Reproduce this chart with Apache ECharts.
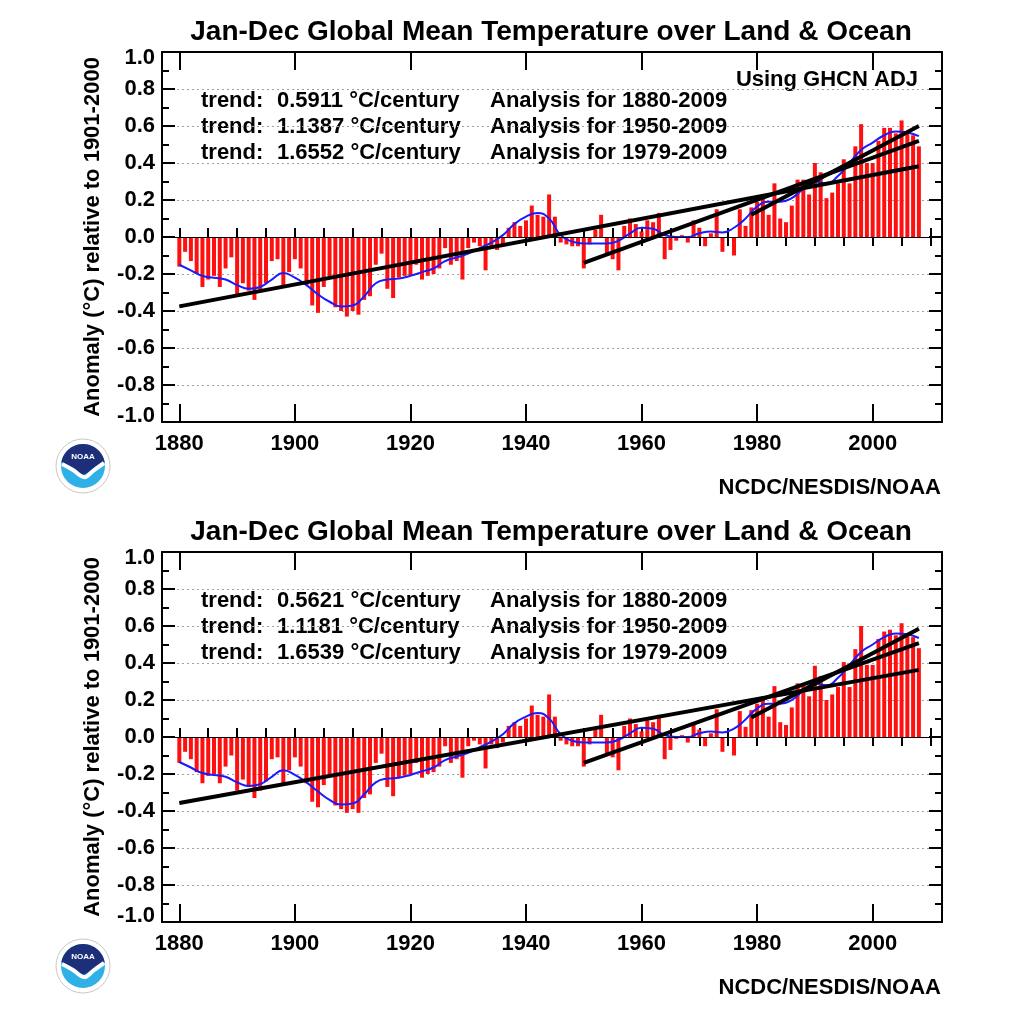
<!DOCTYPE html>
<html><head><meta charset="utf-8">
<script src="https://cdn.jsdelivr.net/npm/echarts@6/dist/echarts.min.js"></script>
<style>html,body{margin:0;padding:0;background:#fff}#c{width:1024px;height:1021px}</style>
</head><body><div id="c"></div>
<script>
// ---------- DATA ----------
const firstYear = 1880;
const titleText = "Jan-Dec Global Mean Temperature over Land & Ocean";
const yAxisTitle = "Anomaly (\u00B0C) relative to 1901-2000";
const majorYears = [1880, 1900, 1920, 1940, 1960, 1980, 2000];
const minorYears = [1880,1885,1890,1895,1900,1905,1910,1915,1920,1925,1930,1935,1940,1945,1950,1955,1960,1965,1970,1975,1980,1985,1990,1995,2000,2005,2010];

// Annual anomalies 1880..2008, top panel (GHCN ADJ)
const anomTop = [
 -0.16,-0.08,-0.13,-0.20,-0.27,-0.23,-0.21,-0.27,-0.17,-0.11,
 -0.31,-0.25,-0.29,-0.34,-0.30,-0.25,-0.13,-0.12,-0.27,-0.19,
 -0.12,-0.17,-0.26,-0.37,-0.41,-0.27,-0.22,-0.38,-0.40,-0.43,
 -0.40,-0.42,-0.34,-0.32,-0.15,-0.09,-0.28,-0.33,-0.22,-0.21,
 -0.21,-0.15,-0.23,-0.21,-0.20,-0.17,-0.06,-0.15,-0.13,-0.23,
 -0.06,-0.03,-0.05,-0.18,-0.05,-0.07,-0.04,0.05,0.08,0.06,
 0.09,0.17,0.12,0.11,0.23,0.11,-0.03,-0.04,-0.05,-0.05,
 -0.17,-0.04,0.04,0.12,-0.10,-0.12,-0.18,0.06,0.10,0.07,
 0.03,0.09,0.08,0.13,-0.12,-0.07,-0.02,0.01,-0.03,0.09,
 0.05,-0.05,0.02,0.15,-0.08,0.00,-0.10,0.15,0.06,0.16,
 0.19,0.23,0.12,0.29,0.10,0.08,0.17,0.31,0.31,0.23,
 0.40,0.35,0.21,0.24,0.29,0.42,0.29,0.49,0.61,0.40,
 0.40,0.52,0.59,0.59,0.56,0.63,0.56,0.55,0.49
];
// Annual anomalies 1880..2008, bottom panel
const anomBottom = [
 -0.14,-0.08,-0.12,-0.19,-0.25,-0.21,-0.20,-0.25,-0.16,-0.10,
 -0.29,-0.23,-0.27,-0.33,-0.29,-0.24,-0.12,-0.11,-0.25,-0.18,
 -0.11,-0.16,-0.25,-0.35,-0.38,-0.26,-0.21,-0.37,-0.39,-0.41,
 -0.39,-0.41,-0.33,-0.31,-0.14,-0.09,-0.27,-0.32,-0.22,-0.21,
 -0.20,-0.14,-0.22,-0.20,-0.19,-0.16,-0.05,-0.14,-0.12,-0.22,
 -0.05,-0.02,-0.04,-0.17,-0.04,-0.06,-0.03,0.06,0.08,0.06,
 0.10,0.17,0.12,0.11,0.23,0.11,-0.02,-0.04,-0.05,-0.05,
 -0.16,-0.04,0.04,0.12,-0.09,-0.11,-0.18,0.06,0.10,0.07,
 0.03,0.09,0.08,0.12,-0.12,-0.07,-0.01,0.01,-0.03,0.08,
 0.04,-0.05,0.02,0.15,-0.08,0.00,-0.10,0.14,0.055,0.145,
 0.18,0.22,0.11,0.275,0.08,0.065,0.16,0.29,0.29,0.22,
 0.385,0.33,0.20,0.23,0.27,0.405,0.27,0.475,0.60,0.39,
 0.39,0.53,0.57,0.58,0.55,0.615,0.55,0.54,0.48
];
// Smoothed curve
const smoothYears = [1880,1882,1884,1886,1888,1890,1892,1894,1896,1898,1900,1902,1904,1906,1908,1910,1912,1914,1916,1918,1920,1922,1924,1926,1928,1930,1932,1934,1936,1938,1940,1942,1944,1946,1948,1950,1952,1954,1956,1958,1960,1962,1964,1966,1968,1970,1972,1974,1976,1978,1980,1982,1984,1986,1988,1990,1992,1994,1996,1998,2000,2002,2004,2006,2008];
const smoothTop = [-0.15,-0.18,-0.21,-0.22,-0.23,-0.26,-0.28,-0.27,-0.23,-0.195,-0.22,-0.26,-0.31,-0.35,-0.375,-0.37,-0.32,-0.25,-0.23,-0.225,-0.21,-0.19,-0.17,-0.13,-0.11,-0.09,-0.06,-0.03,0.01,0.07,0.11,0.13,0.10,0.01,-0.025,-0.035,-0.035,-0.035,-0.02,0.02,0.05,0.045,0.01,0.0,0.0,0.02,0.03,0.025,0.05,0.10,0.165,0.19,0.19,0.21,0.26,0.30,0.29,0.33,0.40,0.47,0.51,0.55,0.57,0.565,0.545];
const smoothBottom = [-0.135,-0.165,-0.195,-0.205,-0.215,-0.245,-0.265,-0.255,-0.215,-0.18,-0.205,-0.245,-0.295,-0.34,-0.365,-0.36,-0.31,-0.245,-0.225,-0.22,-0.205,-0.185,-0.165,-0.125,-0.105,-0.085,-0.055,-0.025,0.015,0.075,0.11,0.13,0.10,0.015,-0.02,-0.03,-0.03,-0.03,-0.015,0.02,0.05,0.045,0.01,0.0,0.0,0.02,0.03,0.025,0.045,0.095,0.155,0.18,0.18,0.20,0.25,0.29,0.28,0.32,0.39,0.46,0.50,0.54,0.56,0.555,0.535];

// Linear trends
const trendStartYears = [1880, 1950, 1979];
const trendEndYear = 2008;
const trendStartTop = [-0.375, -0.14, 0.12];
const trendEndTop = [0.382, 0.52, 0.60];
const trendStartBottom = [-0.357, -0.14, 0.105];
const trendEndBottom = [0.363, 0.508, 0.585];
const trendRatesTop = ["0.5911", "1.1387", "1.6552"];
const trendRatesBottom = ["0.5621", "1.1181", "1.6539"];
const periods = ["1880-2009", "1950-2009", "1979-2009"];

// ---------- CHART ----------
const FF = '"Liberation Sans", Arial, Helvetica, sans-serif';
const chart = echarts.init(document.getElementById('c'), null, {renderer: 'canvas'});
const panelTops = [52, 552];
const X_MIN = 1877, X_MAX = 2012;

function yLabelFmt(v) {
  const s = v.toFixed(1);
  if (v >= 0.999) return '{t|' + s + '}';
  if (v <= -0.999) return '{b|' + s + '}';
  return '{n|' + s + '}';
}
const labFont = {fontSize: 22, fontWeight: 'bold', fontFamily: FF, color: '#000'};

// logo navy cap outline (decoration)
const navyPts = [];
for (let a = 190; a <= 350; a += 8) {
  const r = a * Math.PI / 180;
  navyPts.push([22 * Math.cos(r), 22 * Math.sin(r)]);
}
navyPts.push([21.6, -4], [12, 1], [4, 7], [0, 9], [-4, 7], [-12, 1], [-21.6, -4]);

const grids = [], xAxes = [], yAxes = [], series = [], graphics = [];
const axLine = {show: true, onZero: false, lineStyle: {color: '#000', width: 2}};
const tickStyle = {color: '#000', width: 2};
const txt = (text, x, y, size, align) => ({type: 'text', x: x, y: y,
  style: {text: text, fontSize: size, fontWeight: 'bold', fontFamily: FF, fill: '#000', align: align, verticalAlign: 'middle'}});

panelTops.forEach((top, gi) => {
  grids.push({left: 162, top: top, width: 780, height: 370, containLabel: false});
  const base = {gridIndex: gi, type: 'value', min: X_MIN, max: X_MAX, splitLine: {show: false}};
  xAxes.push(Object.assign({}, base, {position: 'bottom', axisLine: axLine,
    axisTick: {show: true, inside: true, length: 18, lineStyle: tickStyle, customValues: majorYears},
    axisLabel: Object.assign({show: true, margin: 11, customValues: majorYears, formatter: v => String(v)}, labFont)}));
  xAxes.push(Object.assign({}, base, {position: 'bottom', axisLine: {show: false},
    axisTick: {show: true, inside: true, length: 9, lineStyle: tickStyle, customValues: minorYears},
    axisLabel: {show: false}}));
  xAxes.push(Object.assign({}, base, {position: 'top', axisLine: axLine,
    axisTick: {show: true, inside: true, length: 18, lineStyle: tickStyle, customValues: majorYears},
    axisLabel: {show: false}}));
  xAxes.push(Object.assign({}, base, {position: 'top', axisLine: {show: false},
    axisTick: {show: true, inside: true, length: 9, lineStyle: tickStyle, customValues: minorYears},
    axisLabel: {show: false}}));
  const ybase = {gridIndex: gi, type: 'value', min: -1, max: 1, interval: 0.2};
  yAxes.push(Object.assign({}, ybase, {position: 'left', axisLine: axLine,
    axisTick: {show: true, inside: true, length: 13, lineStyle: tickStyle},
    minorTick: {show: true, splitNumber: 2, length: 7, lineStyle: tickStyle},
    splitLine: {show: true, lineStyle: {color: '#a0a0a0', width: 1, type: [2, 3]}},
    axisLabel: {show: true, margin: 7, formatter: yLabelFmt,
      rich: {
        n: labFont,
        t: Object.assign({}, labFont, {padding: [12, 0, 0, 0]}),
        b: Object.assign({}, labFont, {padding: [0, 0, 12, 0]})
      }},
    name: yAxisTitle, nameLocation: 'middle', nameRotate: 90, nameGap: 58,
    nameTextStyle: {fontSize: 22, fontWeight: 'bold', fontFamily: FF, color: '#000'}}));
  yAxes.push(Object.assign({}, ybase, {position: 'right', axisLine: axLine,
    axisTick: {show: true, inside: true, length: 13, lineStyle: tickStyle},
    minorTick: {show: true, splitNumber: 2, length: 7, lineStyle: tickStyle},
    splitLine: {show: false}, axisLabel: {show: false}}));

  const anom = gi === 0 ? anomTop : anomBottom;
  const smooth = gi === 0 ? smoothTop : smoothBottom;
  const ts = gi === 0 ? trendStartTop : trendStartBottom;
  const te = gi === 0 ? trendEndTop : trendEndBottom;
  const xi = gi * 4, yi = gi * 2;

  series.push({type: 'bar', xAxisIndex: xi, yAxisIndex: yi, barWidth: 4, silent: true,
    itemStyle: {color: '#ff1010'},
    data: anom.map((v, i) => [firstYear + i, v]),
    markLine: {silent: true, symbol: 'none', label: {show: false},
      lineStyle: {color: '#000', width: 1, type: 'solid'}, data: [{yAxis: 0}]},
    z: 2});
  series.push({type: 'line', xAxisIndex: xi, yAxisIndex: yi, smooth: 0.5, symbol: 'none', silent: true,
    lineStyle: {color: '#1a1aff', width: 2}, data: smoothYears.map((y, i) => [y, smooth[i]]), z: 3});
  trendStartYears.forEach((sy, k) => {
    series.push({type: 'line', xAxisIndex: xi, yAxisIndex: yi, symbol: 'none', silent: true,
      lineStyle: {color: '#000', width: 4}, data: [[sy, ts[k]], [trendEndYear, te[k]]], z: 4});
  });

  // text annotations
  const off = gi * 500;
  graphics.push(txt(titleText, 551, 32 + off, 28, 'center'));
  const rates = gi === 0 ? trendRatesTop : trendRatesBottom;
  rates.forEach((r, k) => {
    const yy = 101 + k * 26 + off;
    graphics.push(txt('trend:', 201, yy, 22, 'left'));
    graphics.push(txt(r + ' \u00B0C/century', 277, yy, 22, 'left'));
    graphics.push(txt('Analysis for ' + periods[k], 490, yy, 22, 'left'));
  });
  if (gi === 0) graphics.push(txt('Using GHCN ADJ', 918, 80, 22, 'right'));
  graphics.push(txt('NCDC/NESDIS/NOAA', 941, 488 + off, 22, 'right'));
  // NOAA logo
  graphics.push({type: 'group', x: 83, y: 466 + off, children: [
    {type: 'circle', shape: {cx: 0, cy: 0, r: 27}, style: {fill: '#ffffff', stroke: '#c8c8c8', lineWidth: 1}},
    {type: 'circle', shape: {cx: 0, cy: 0, r: 22}, style: {fill: '#2fb0e6'}},
    {type: 'polygon', shape: {points: navyPts}, style: {fill: '#1c2f78'}},
    {type: 'polyline', shape: {points: [[-21, -2], [-10, 4], [-2, 10], [3, 11], [10, 5], [21, -3]], smooth: 0.4}, style: {stroke: '#ffffff', lineWidth: 4, fill: null}},
    {type: 'text', x: 0, y: -9, style: {text: 'NOAA', fontSize: 8, fontWeight: 'bold', fontFamily: FF, fill: '#ffffff', align: 'center', verticalAlign: 'middle'}}
  ]});
});

chart.setOption({
  animation: false,
  backgroundColor: '#ffffff',
  grid: grids, xAxis: xAxes, yAxis: yAxes, series: series, graphic: graphics
});
</script></body></html>
